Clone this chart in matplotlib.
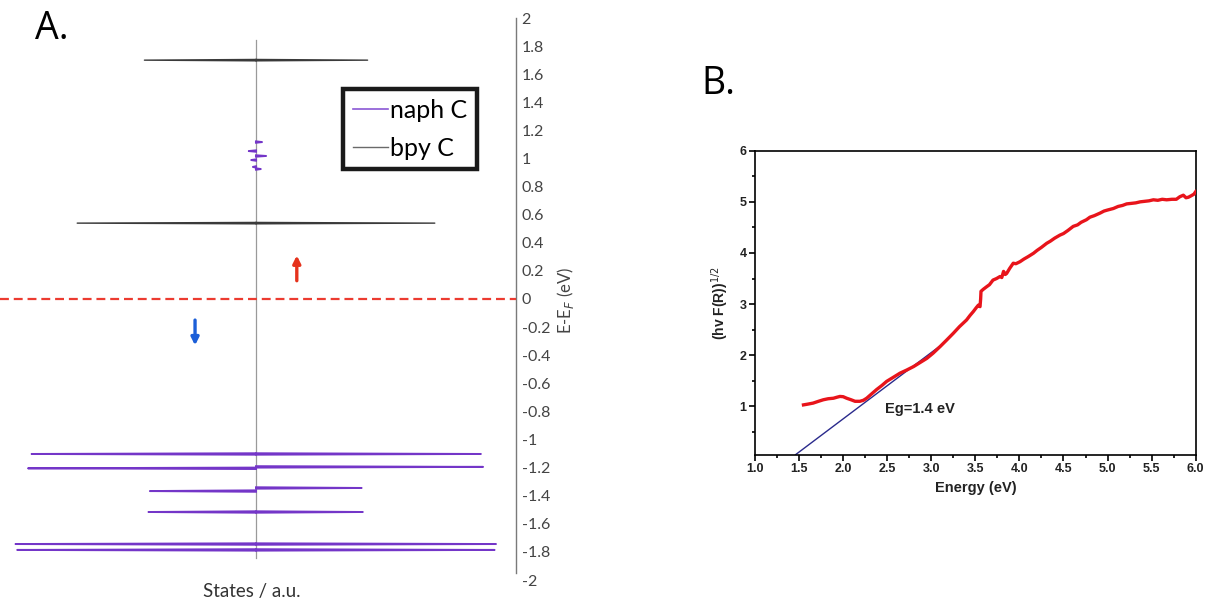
#!/usr/bin/env python3
# -*- coding: utf-8 -*-

"""Spin-resolved PDOS (A) and Tauc plot of the band gap (B)."""

import matplotlib
matplotlib.use("Agg")
import matplotlib.pyplot as plt
from matplotlib.lines import Line2D
from matplotlib.ticker import MultipleLocator, FuncFormatter

plt.rcParams['axes.unicode_minus'] = False

# =================================================================
# Panel A: PDOS peaks (energy in eV, height in arbitrary units)
# =================================================================
BPY_E_UP = [1.70, 0.54]
BPY_AMP_UP = [0.465, 0.745]
BPY_E_DN = [1.70, 0.54]
BPY_AMP_DN = [0.465, 0.745]

NAPH_E_UP = [1.117, 1.018, 0.925, -1.103, -1.195, -1.345, -1.516, -1.744, -1.786]
NAPH_AMP_UP = [0.025, 0.042, 0.020, 0.937, 0.946, 0.440, 0.445, 1.000, 0.994]
NAPH_E_DN = [1.053, 0.989, 0.940, -1.103, -1.205, -1.367, -1.516, -1.744, -1.786]
NAPH_AMP_DN = [0.030, 0.020, 0.013, 0.935, 0.950, 0.442, 0.448, 1.002, 0.995]

E_RANGE = (-1.84, 1.84)
A_TICKS = [2, 1.8, 1.6, 1.4, 1.2, 1, 0.8, 0.6, 0.4, 0.2, 0,
           -0.2, -0.4, -0.6, -0.8, -1, -1.2, -1.4, -1.6, -1.8, -2]

# =================================================================
# Panel B: (hv F(R))^1/2 vs photon energy
# =================================================================
ENERGY = [1.55, 1.60, 1.66, 1.72, 1.775, 1.83, 1.89, 1.93, 1.964, 2.00, 2.04,
          2.09, 2.135, 2.19, 2.23, 2.267, 2.32, 2.38, 2.44, 2.494, 2.57, 2.645,
          2.72, 2.80, 2.875, 2.95, 3.02, 3.10, 3.17, 3.25, 3.32, 3.40, 3.44,
          3.477, 3.51, 3.534, 3.553, 3.560, 3.564, 3.59, 3.628, 3.66, 3.70,
          3.74, 3.78, 3.80, 3.82, 3.84, 3.855, 3.89, 3.93, 3.96, 4.007, 4.05,
          4.10, 4.16, 4.20, 4.25, 4.31, 4.35, 4.40, 4.46, 4.50, 4.55, 4.61,
          4.66, 4.70, 4.76, 4.80, 4.85, 4.915, 4.96, 5.00, 5.066, 5.12, 5.17,
          5.217, 5.27, 5.32, 5.37, 5.42, 5.47, 5.52, 5.57, 5.62, 5.67, 5.73,
          5.78, 5.82, 5.86, 5.89, 5.917, 5.95, 5.98, 6.00]
KM = [1.03, 1.045, 1.065, 1.10, 1.13, 1.15, 1.16, 1.18, 1.195, 1.19, 1.16,
      1.13, 1.10, 1.10, 1.12, 1.16, 1.24, 1.33, 1.41, 1.49, 1.57, 1.65,
      1.71, 1.78, 1.86, 1.94, 2.04, 2.17, 2.29, 2.43, 2.56, 2.69, 2.78,
      2.855, 2.93, 2.98, 2.95, 3.10, 3.25, 3.29, 3.34, 3.38, 3.47, 3.50,
      3.54, 3.52, 3.64, 3.58, 3.60, 3.70, 3.80, 3.79, 3.83, 3.88, 3.93,
      3.995, 4.05, 4.11, 4.19, 4.23, 4.29, 4.35, 4.38, 4.44, 4.52, 4.55,
      4.60, 4.65, 4.70, 4.73, 4.78, 4.82, 4.84, 4.87, 4.91, 4.93, 4.96,
      4.97, 4.98, 5.00, 5.01, 5.02, 5.04, 5.03, 5.05, 5.04, 5.05, 5.05,
      5.10, 5.13, 5.08, 5.09, 5.12, 5.15, 5.20]

FIT_E = [1.46, 3.09]
FIT_Y = [0.056, 2.17]
EG_LABEL = "Eg=1.4 eV"


def spike_path(energies, amps, side, half_width=0.005):
    """Narrow triangle outline for each DOS peak (side=+1 up, -1 down)."""
    xs, ys = [], []
    for e, a in zip(energies, amps):
        xs += [0, side * a, 0, None]
        ys += [e - half_width, e, e + half_width, None]
    return xs, ys


def draw_pdos(ax):
    ax.set_xlim(-256 / 240, 260 / 240)
    ax.set_ylim(-2, 2)

    # zero-state baseline
    ax.plot([0, 0], E_RANGE, color='#9a9a9a', lw=0.9, zorder=1)

    purple = '#7436c8'
    black = '#3a3a3a'
    for e, a, side in [(BPY_E_UP, BPY_AMP_UP, 1), (BPY_E_DN, BPY_AMP_DN, -1)]:
        xs, ys = spike_path(e, a, side)
        ax.plot(xs, ys, color=black, lw=1.0, zorder=2)
    for e, a, side in [(NAPH_E_UP, NAPH_AMP_UP, 1), (NAPH_E_DN, NAPH_AMP_DN, -1)]:
        xs, ys = spike_path(e, a, side)
        ax.plot(xs, ys, color=purple, lw=1.4, zorder=3)

    # Fermi level
    ax.axhline(0, color='#ec3b30', lw=1.6, ls=(0, (4, 2.2)), zorder=4)

    # spin arrows
    ax.annotate('', xy=(0.17, 0.31), xytext=(0.17, 0.13),
                arrowprops=dict(arrowstyle='-|>', lw=2.4, color='#e5321c',
                                mutation_scale=11, shrinkA=0, shrinkB=0))
    ax.annotate('', xy=(-0.254, -0.33), xytext=(-0.254, -0.15),
                arrowprops=dict(arrowstyle='-|>', lw=2.4, color='#1c5fd8',
                                mutation_scale=11, shrinkA=0, shrinkB=0))

    for side in ['left', 'top', 'bottom']:
        ax.spines[side].set_visible(False)
    ax.spines['right'].set_color('#7a7a7a')
    ax.spines['right'].set_linewidth(1.0)
    ax.spines['right'].set_bounds(-1.95, 2)
    ax.set_xticks([])
    ax.yaxis.tick_right()
    ax.set_yticks(A_TICKS)
    ax.yaxis.set_major_formatter(FuncFormatter(lambda v, p: f"{v:g}"))
    ax.tick_params(axis='y', length=0, pad=4, labelsize=11.5,
                   labelcolor='#444444')
    for lab in ax.get_yticklabels():
        lab.set_family('Lato')

    handles = [Line2D([], [], color='#8a58d4', lw=1.2),
               Line2D([], [], color='#6a6a6a', lw=1.0)]
    leg = ax.legend(handles, ['naph C', 'bpy C'], loc='upper left',
                    bbox_to_anchor=(343 / 516, 1 - (89 - 18) / 562),
                    prop={'family': 'Lato', 'size': 18},
                    handlelength=1.4, handletextpad=0.1, labelspacing=0.6,
                    borderpad=0.38, borderaxespad=0, fancybox=False,
                    framealpha=1)
    leg.get_frame().set_edgecolor('#1a1a1a')
    leg.get_frame().set_linewidth(3.2)


def draw_tauc(ax):
    ax.plot(ENERGY, KM, color='#e8141b', lw=2.4, zorder=3)
    ax.plot(FIT_E, FIT_Y, color='#2a2a8c', lw=1.0, zorder=2)
    ax.text(2.47, 0.95, EG_LABEL, fontsize=10.5, fontweight='bold',
            va='center', ha='left', family='Liberation Sans', color='#222222')

    ax.set_xlim(1.0, 6.0)
    ax.set_ylim(0.05, 6.0)
    ax.xaxis.set_major_locator(MultipleLocator(0.5))
    ax.xaxis.set_minor_locator(MultipleLocator(0.25))
    ax.yaxis.set_major_locator(MultipleLocator(1))
    ax.yaxis.set_minor_locator(MultipleLocator(0.5))
    ax.xaxis.set_major_formatter(FuncFormatter(lambda v, p: f"{v:.1f}"))
    ax.yaxis.set_major_formatter(FuncFormatter(lambda v, p: f"{v:g}"))
    ax.tick_params(which='major', direction='out', length=4, width=1.2,
                   labelsize=9, pad=2, labelcolor='#222222')
    ax.tick_params(which='minor', direction='out', length=2.5, width=1.2)
    for lab in ax.get_xticklabels() + ax.get_yticklabels():
        lab.set_fontweight('bold')
        lab.set_family('Liberation Sans')
    for sp in ax.spines.values():
        sp.set_linewidth(1.2)
    ax.set_xlabel('Energy (eV)', fontsize=10.5, fontweight='bold',
                  family='Liberation Sans', labelpad=4, color='#222222')
    ax.set_ylabel('(hv F(R))$^{1/2}$', fontsize=10, fontweight='bold',
                  family='Liberation Sans', labelpad=6, color='#222222')


def main():
    fig = plt.figure(figsize=(12.06, 6.02), dpi=100)
    ax_a = fig.add_axes([0.0, 1 - 580 / 602, 516 / 1206, 562 / 602])
    ax_b = fig.add_axes([755 / 1206, 1 - 455 / 602, 440.7 / 1206, 304.3 / 602])

    draw_pdos(ax_a)
    draw_tauc(ax_b)

    fig.text(252 / 1206, 1 - 591 / 602, 'States / a.u.', ha='center',
             va='center', fontsize=13.5, family='Lato', color='#333333')
    fig.text(566 / 1206, 1 - 300 / 602, 'E-E$_F$ (eV)', rotation=90,
             ha='center', va='center', fontsize=12, family='Lato',
             color='#444444')
    fig.text(35 / 1206, 1 - 29 / 602, 'A.', fontsize=27, family='Open Sans',
             va='center', ha='left')
    fig.text(701 / 1206, 1 - 84 / 602, 'B.', fontsize=27, family='Open Sans',
             va='center', ha='left')

    fig.savefig('out.png', dpi=100)


if __name__ == "__main__":
    main()
